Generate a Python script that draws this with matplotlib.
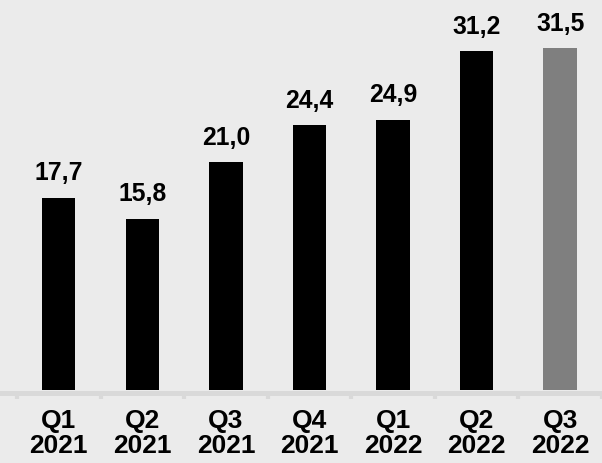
import numpy as np
import matplotlib.pyplot as plt

# quarterly values
quarters = ['Q1\n2021', 'Q2\n2021', 'Q3\n2021', 'Q4\n2021',
            'Q1\n2022', 'Q2\n2022', 'Q3\n2022']
values = [17.7, 15.8, 21.0, 24.4, 24.9, 31.2, 31.5]
value_labels = ['17,7', '15,8', '21,0', '24,4', '24,9', '31,2', '31,5']
bar_colors = ['#000000'] * 6 + ['#7f7f7f']

plt.rcParams['font.family'] = ['Liberation Sans', 'DejaVu Sans']

fig = plt.figure(figsize=(6.02, 4.63), dpi=100)
fig.patch.set_facecolor('#ebebeb')
ax = fig.add_axes([0, 73 / 463, 1, 390 / 463])
ax.set_facecolor('none')

index = np.arange(len(values))
bars = ax.bar(index, values, 0.4, color=bar_colors, zorder=3)

for rect, lab in zip(bars, value_labels):
    ax.annotate(lab, (rect.get_x() + rect.get_width() / 2, rect.get_height()),
                xytext=(0, 12.6), textcoords='offset points',
                ha='center', va='baseline', fontsize=17.8,
                fontweight='bold', color='black')

ax.set_xlim(-0.703, 6.347)
ax.set_ylim(0, 35.94)

for side in ['left', 'right', 'top']:
    ax.spines[side].set_visible(False)
ax.spines['bottom'].set_color('#d9d9d9')
ax.spines['bottom'].set_linewidth(3.6)
ax.spines['bottom'].set_position(('outward', 1.8))

ax.set_yticks([])
ax.set_xticks(index)
ax.set_xticklabels(quarters, fontsize=19, fontweight='bold', linespacing=1.06)
ax.tick_params(axis='x', which='major', length=0, pad=12)
ax.set_xticks(np.arange(-0.5, len(values)), minor=True)
ax.tick_params(axis='x', which='minor', length=4, width=3,
               color='#d9d9d9', direction='out')

fig.savefig('out.png', dpi=100, facecolor=fig.get_facecolor())
